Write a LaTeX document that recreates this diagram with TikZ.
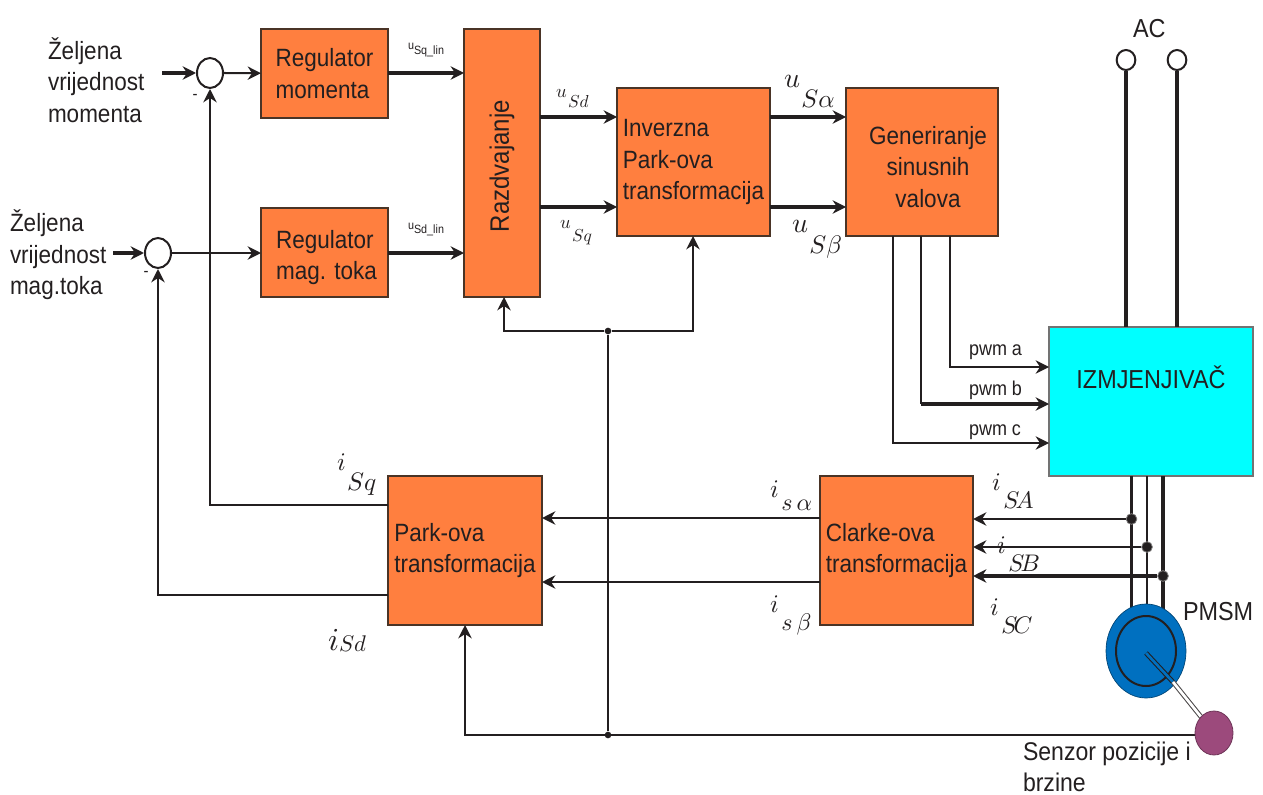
\documentclass[tikz,border=0pt]{standalone}
\usepackage{fontspec}
\setmainfont[FakeStretch=0.9]{Liberation Sans}
\usetikzlibrary{arrows.meta,calc,shapes.geometric}
\definecolor{ink}{HTML}{231F20}
\definecolor{boxor}{HTML}{FF7F3F}
\definecolor{boxedge}{HTML}{4A3426}
\definecolor{motorblue}{HTML}{0070C0}
\definecolor{senspurple}{HTML}{9C4A7C}
\definecolor{invcyan}{HTML}{00FFFF}
\newcommand\sublab[6]{\scalebox{#1}{$#2$}\hspace{#3pt}\raisebox{-#4pt}{\scalebox{#5}{$#6$}}}
\tikzset{
  x=0.75pt,y=-0.75pt,
  txt/.style={inner sep=0pt,outer sep=0pt,font=\fontsize{18.75pt}{23.7pt}\selectfont,text=ink,align=left},
  small/.style={inner sep=0pt,outer sep=0pt,font=\fontsize{12.5pt}{15pt}\selectfont,text=ink},
  bl/.style={inner sep=0pt,outer sep=0pt,anchor=base west,text=ink},
  block/.style={draw=boxedge,line width=1.6pt,fill=boxor,inner sep=0pt,outer sep=0pt,txt},
  ring/.style={draw=ink,line width=1.5pt,fill=white,ellipse,inner sep=0pt},
  thin line/.style={draw=ink,line width=1.6pt},
  thick line/.style={draw=ink,line width=2.6pt},
  tip/.style={-{Stealth[length=10pt,width=10pt]}},
  thin tip/.style={-{Stealth[length=10pt,width=10pt]}},
  dotn/.style={circle,fill=ink,inner sep=0pt,minimum size=5pt},
  jdot/.style={circle,fill=ink,draw=ink!60,line width=.6pt,inner sep=0pt,minimum size=8pt},
}
\begin{document}
\begin{tikzpicture}
\useasboundingbox (0,0) rectangle (1263,795);
% summing junctions
\node[ring,minimum width=19.5pt,minimum height=22.5pt] (s1) at (210,73) {};
\node[ring,minimum width=19.5pt,minimum height=22.5pt] (s2) at (158,253) {};
% blocks
\node[block,minimum width=127*.75pt,minimum height=89*.75pt] (rm) at (324.5,73.5) {Regulator\\momenta};
\node[block,minimum width=127*.75pt,minimum height=89*.75pt] (rt) at (324.5,252.5) {\rule{0pt}{21pt}\hspace*{3pt}Regulator\\\hspace*{3pt}mag. toka};
\node[block,minimum width=76*.75pt,minimum height=268*.75pt] (rz) at (502,163) {};
\node[txt,rotate=90,font=\fontsize{20pt}{24pt}\selectfont] (rzt) at (502,166) {Razdvajanje};
\node[block,minimum width=153*.75pt,minimum height=148*.75pt] (inv) at (693.5,162) {Inverzna\\Park-ova\\transformacija};
\node[block,align=center,minimum width=152*.75pt,minimum height=148*.75pt] (gen) at (922,162) {\rule{0pt}{21pt}\hspace*{9pt}Generiranje\\\hspace*{9pt}sinusnih\\\hspace*{9pt}valova};
\node[block,draw=black!55,fill=invcyan,font=\fontsize{19.5pt}{24pt}\selectfont,minimum width=204*.75pt,minimum height=149*.75pt] (izm) at (1151,401.5) {\raisebox{36pt}{IZMJENJIVAČ}};
\node[block,minimum width=153*.75pt,minimum height=149*.75pt] (cl) at (896.5,550.5) {Clarke-ova\\transformacija};
\node[block,minimum width=154*.75pt,minimum height=149*.75pt] (pk) at (465,550.5) {Park-ova\\transformacija};
% AC terminals
\node[ring,minimum width=14pt,minimum height=15pt] (ac1) at (1126,60) {};
\node[ring,minimum width=14pt,minimum height=15pt] (ac2) at (1177,60) {};
\draw[thick line] (ac1) -- (ac1 |- izm.north);
\draw[thick line] (ac2) -- (ac2 |- izm.north);
% named levels
\coordinate (yu) at (0,117); \coordinate (yv) at (0,207);
\coordinate (ya) at (0,367); \coordinate (yb) at (0,404); \coordinate (yc) at (0,443);
\coordinate (xa) at (950,0); \coordinate (xb) at (921,0); \coordinate (xc) at (893,0);
\coordinate (ySA) at (0,519); \coordinate (ySB) at (0,547); \coordinate (ySC) at (0,576);
\coordinate (xA) at (1131.5,0); \coordinate (xB) at (1147,0); \coordinate (xC) at (1163,0);
\coordinate (yi1) at (0,518); \coordinate (yi2) at (0,582);
\coordinate (yp1) at (0,505); \coordinate (yp2) at (0,595);
\coordinate (in1) at (162,73); \coordinate (in2) at (113,253);
% inputs
\draw[thick line,tip] (in1) -- (s1);
\draw[thick line,tip] (in2) -- (s2);
\draw[thin line,thin tip] (s1) -- (rm);
\draw[thin line,thin tip] (s2) -- (s2 -| rt.west);
\draw[thick line,tip] (rm.east |- s1) -- (rz.west |- s1);
\draw[thick line,tip] (rt.east |- s2) -- (rz.west |- s2);
% u lines
\draw[thick line,tip] (rz.east |- yu) -- (inv.west |- yu);
\draw[thick line,tip] (rz.east |- yv) -- (inv.west |- yv);
\draw[thick line,tip] (inv.east |- yu) -- (gen.west |- yu);
\draw[thick line,tip] (inv.east |- yv) -- (gen.west |- yv);
% pwm
\draw[thin line,thin tip] (xa |- gen.south) -- (xa |- ya) -- (izm.west |- ya);
\draw[thin line] (xb |- gen.south) -- (xb |- yb);
\draw[thick line,thin tip] (xb |- yb) -- (izm.west |- yb);
\draw[thin line,thin tip] (xc |- gen.south) -- (xc |- yc) -- (izm.west |- yc);
% motor feeds
\coordinate (mc) at (1146,620);
\draw[thick line] (xA |- izm.south) -- (xA |- mc);
\draw[thick line,line width=2.2pt] (xB |- izm.south) -- (xB |- mc);
\draw[thick line] (xC |- izm.south) -- (xC |- mc);
\node[ellipse,fill=motorblue,draw=motorblue!60!black,line width=.5pt,minimum width=60pt,minimum height=70.5pt,inner sep=0pt] (mot) at (1146,651) {};
\node[ellipse,draw=ink,line width=1.5pt,minimum width=45pt,minimum height=52.5pt,inner sep=0pt] (rotor) at (1146,651) {};
% position feedback
\coordinate (fb) at (0,735);
\coordinate (xr) at (608,0); \coordinate (yr) at (0,331);
\coordinate (xz) at (504,0); \coordinate (xi) at (693,0);
\coordinate (senc) at (1214,733);
\draw[thin line,line width=2pt,thin tip] (senc |- fb) -- (pk.south |- fb) -- (pk.south);
\node[dotn] (d1) at (xr |- fb) {};
\node[dotn] (d2) at (xr |- yr) {};
\draw[thin line,line width=1.3pt] (d1) -- (d2);
\draw[thin line,line width=2pt,thin tip] (d2) -- (xz |- yr) -- (xz |- rz.south);
\draw[thin line,line width=2pt,thin tip] (d2) -- (xi |- yr) -- (xi |- inv.south);
% shaft and sensor
\coordinate (sh0) at (1146,653); \coordinate (sh1) at (1173,682);
\draw[draw=ink,line width=.8pt,double=motorblue,double distance=2pt] (sh0) -- (sh1);
\draw[draw=ink!80,line width=.8pt,double=white,double distance=2pt] (sh1) -- (senc);
\node[ellipse,fill=senspurple,draw=senspurple!70!black,line width=.6pt,minimum width=28.5pt,minimum height=33pt,inner sep=0pt] (sen) at (senc) {};
% current feedback
\node[jdot] (jA) at (xA |- ySA) {};
\node[jdot] (jB) at (xB |- ySB) {};
\node[jdot] (jC) at (xC |- ySC) {};
\draw[thin line,line width=2pt,tip] (jA) -- (cl.east |- jA);
\draw[thin line,line width=2pt,tip] (jB) -- (cl.east |- jB);
\draw[thick line,tip] (jC) -- (cl.east |- jC);
\draw[thin line,thin tip] (cl.west |- yi1) -- (pk.east |- yi1);
\draw[thin line,thin tip] (cl.west |- yi2) -- (pk.east |- yi2);
\draw[thin line,line width=1.8pt,thin tip] (pk.west |- yp1) -| (s1);
\draw[thin line,line width=1.8pt,thin tip] (pk.west |- yp2) -| (s2);
% text labels
\node[txt,anchor=west] (t1) at (48,80) {Željena\\vrijednost\\momenta};
\node[txt,anchor=west] (t2) at (10,255) {Željena\\vrijednost\\mag.toka};
\node[small] (m1) at (195,97) {-};
\node[small] (m2) at (146,274) {-};
\node[bl,font=\fontsize{9pt}{9pt}\selectfont] (l1) at (408,50) {u\raisebox{-3.5pt}{Sq\_lin}};
\node[bl,font=\fontsize{9pt}{9pt}\selectfont] (l2) at (408,229) {u\raisebox{-3.5pt}{Sd\_lin}};
\node[bl] (usd) at (556,98) {\sublab{1.4}{u}{1}{7.5}{1.3}{Sd}};
\node[bl] (usq) at (560,228) {\sublab{1.4}{u}{1}{10}{1.3}{Sq}};
\node[bl] (ual) at (784,88) {\sublab{2.1}{u}{1}{15}{1.9}{S\alpha}};
\node[bl] (ube) at (792,232) {\sublab{2.1}{u}{1}{16}{1.9}{S\beta}};
\node[bl] (isa) at (992,490) {\sublab{1.9}{i}{2}{13.5}{1.8}{S\!A}};
\node[bl] (isb) at (997,553) {\sublab{1.9}{i}{2}{13.5}{1.8}{S\!B}};
\node[bl] (isc) at (990,615) {\sublab{1.9}{i}{2}{13.5}{1.8}{S\!C}};
\node[bl] (ial) at (770,497) {\sublab{1.9}{i}{2}{10}{1.8}{s\,\alpha}};
\node[bl] (ibe) at (770,612) {\sublab{1.9}{i}{2}{14}{1.8}{s\,\beta}};
\node[bl] (isq) at (337,470) {\sublab{1.9}{i}{1}{15}{1.9}{Sq}};
\node[bl] (isd) at (328,650) {\sublab{2.4}{i}{0}{1}{1.7}{Sd}};
\node[bl,font=\fontsize{15pt}{18pt}\selectfont] (pa) at (969,355) {pwm a};
\node[bl,font=\fontsize{15pt}{18pt}\selectfont] (pb) at (969,395) {pwm b};
\node[bl,font=\fontsize{15pt}{18pt}\selectfont] (pc) at (969,435) {pwm c};
\node[bl,font=\fontsize{19.5pt}{22pt}\selectfont] (ac) at (1133,38) {AC};
\node[bl,font=\fontsize{19.5pt}{22pt}\selectfont] (pm) at (1183,620) {PMSM};
\node[txt,anchor=west,font=\fontsize{19.2pt}{23.5pt}\selectfont] (sz) at (1023,767) {Senzor pozicije i\\brzine};
\end{tikzpicture}
\end{document}
